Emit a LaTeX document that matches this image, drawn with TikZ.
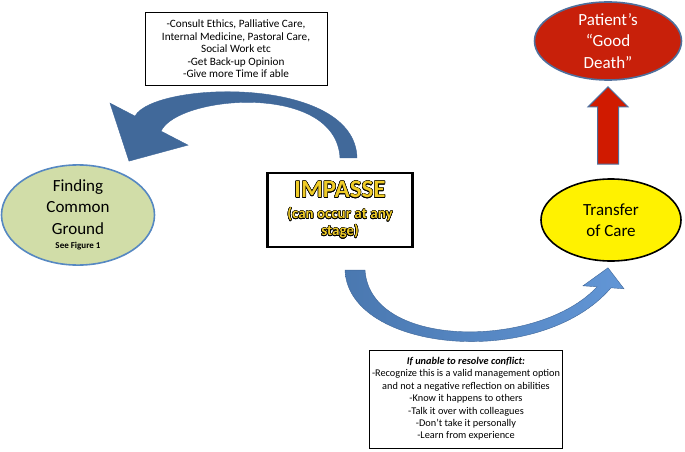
\documentclass[tikz,border=0pt]{standalone}
\usepackage{fontspec}
\setmainfont{Carlito}
\usepackage{contour}
\usetikzlibrary{shapes.geometric, calc}

\definecolor{upblue}{HTML}{41699A}
\definecolor{lowblueL}{HTML}{4A78B0}
\definecolor{lowblueR}{HTML}{6296D6}
\definecolor{arrowedge}{HTML}{3E6699}
\definecolor{deathred}{HTML}{C8200A}
\definecolor{arrowred}{HTML}{D01A00}
\definecolor{rimblue}{HTML}{4F6F9C}
\definecolor{groundgreen}{HTML}{D1DDA8}
\definecolor{groundrim}{HTML}{5688C2}
\definecolor{impassegold}{HTML}{F0CC28}

\contourlength{0.5pt}
\newcommand{\goldtext}[1]{\contour{black}{\textcolor{impassegold}{#1}}}

\begin{document}
\begin{tikzpicture}[x=1pt, y=-1pt,
	goal/.style={ellipse, draw, line width=1.6pt, inner sep=0pt, align=center, font=\fontsize{17}{21.5}\selectfont},
	notebox/.style={rectangle, draw, line width=0.8pt, inner sep=0pt, align=center, font=\fontsize{10.3}{12.4}\selectfont}]
	\useasboundingbox[fill=white] (0,0) rectangle (685,452);
	% Nodes:
	\node[goal, fill=deathred, draw=rimblue, text=white, minimum width=147, minimum height=78](death) at (608,41){Patient’s\\“Good\\Death”};
	\node[goal, fill=yellow, draw=black, minimum width=140, minimum height=82](transfer) at (611,220){Transfer\\of Care};
	\node[goal, fill=groundgreen, draw=groundrim, minimum width=153, minimum height=92](ground) at (78,215){Finding\\Common\\Ground\\[-7pt]{\fontsize{9}{10}\selectfont\bfseries See Figure 1}};
	\node[rectangle, draw, line width=2.2pt, inner sep=0pt, align=center, minimum width=145, minimum height=74, font=\fontsize{15}{17}\selectfont\bfseries](impasse) at (340,210){{\fontsize{25}{25}\selectfont\goldtext{IMPASSE}}\\[4pt]\goldtext{(can occur at any}\\\goldtext{stage)}};
	\node[notebox, minimum width=182, minimum height=73, font=\fontsize{11.2}{12.5}\selectfont](consult) at (236,49){-Consult Ethics, Palliative Care,\\Internal Medicine, Pastoral Care,\\Social Work etc\\-Get Back-up Opinion\\-Give more Time if able};
	\node[notebox, minimum width=193, minimum height=98](unable) at (466,399){\textbf{\textit{If unable to resolve conflict:}}\\-Recognize this is a valid management option\\and not a negative reflection on abilities\\-Know it happens to others\\-Talk it over with colleagues\\-Don’t take it personally\\-Learn from experience};
	% Arrows:
	\coordinate (upTailIn) at ($(impasse.north)+(0,-14)$);
	\coordinate (upTailOut) at ($(impasse.north)+(17,-14)$);
	\coordinate (upTip) at ($(ground.north)+(51,-3)$);
	\draw[fill=upblue, draw=arrowedge, line width=0.4pt] (upTailOut) .. controls +(-2,-83) and +(19,-35) .. ($(upTip)+(6,-45)$) -- ($(upTip)+(-19,-58)$) -- (upTip) -- ($(upTip)+(59,-16)$) -- ($(upTip)+(32,-30)$) .. controls +(17,-36) and +(-4,-76) .. (upTailIn) -- cycle;
	\coordinate (lowTailOut) at ($(impasse.south)+(5,22)$);
	\coordinate (lowTailIn) at ($(impasse.south)+(25,22)$);
	\coordinate (lowTip) at ($(transfer.south)+(-3,6)$);
	\draw[left color=lowblueL, right color=lowblueR, draw=arrowedge, line width=0.4pt] (lowTailOut) .. controls +(3,82) and +(-71,83) .. ($(lowTip)+(3,20)$) -- ($(lowTip)+(16,21)$) -- (lowTip) -- ($(lowTip)+(-25,18)$) -- ($(lowTip)+(-11,19)$) .. controls +(-57,62) and +(5,80) .. (lowTailIn) -- cycle;
	\coordinate (redTip) at ($(death.south)+(0,6)$);
	\coordinate (redBase) at ($(transfer.north)+(-3,-14)$);
	\draw[fill=arrowred, draw=rimblue, line width=1pt] ($(redBase)+(-10.5,0)$) -- ($(redTip)+(-10.5,20)$) -- ($(redTip)+(-20,20)$) -- (redTip) -- ($(redTip)+(20,20)$) -- ($(redTip)+(10.5,20)$) -- ($(redBase)+(10.5,0)$) -- cycle;
\end{tikzpicture}
\end{document}
